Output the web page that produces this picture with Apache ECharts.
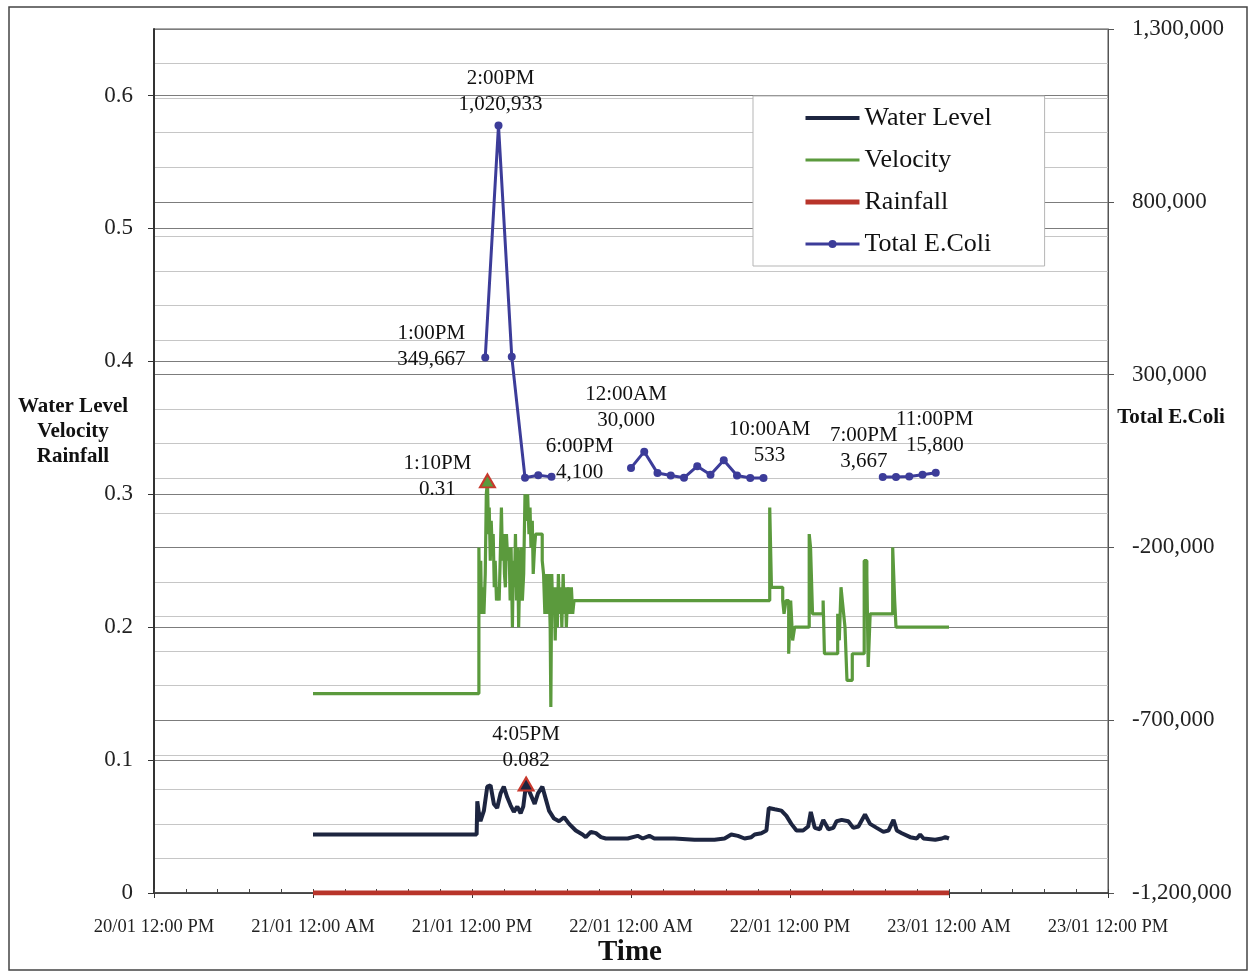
<!DOCTYPE html>
<html>
<head>
<meta charset="utf-8">
<script src="https://cdn.jsdelivr.net/npm/echarts@6/dist/echarts.min.js"></script>
<style>
  html, body { margin: 0; padding: 0; background: #fff; }
  #chart { width: 1249px; height: 972px; }
</style>
</head>
<body>
<div id="chart"></div>
<script>
// All times are hours counted from 21/01 12:00 AM.
const xTickLabels = ['20/01 12:00 PM', '21/01 12:00 AM', '21/01 12:00 PM', '22/01 12:00 AM',
                     '22/01 12:00 PM', '23/01 12:00 AM', '23/01 12:00 PM'];
const ecoliTickValues = [-1200000, -700000, -200000, 300000, 800000, 1300000];

// Velocity (m/s): each value holds until the next time stamp
const velocityHours = [0, 12.52, 12.58, 12.66, 12.72, 12.8, 12.9, 13.0, 13.08, 13.1667,
  13.25, 13.3, 13.38, 13.45, 13.52, 13.6, 13.68, 13.75, 13.85, 13.95,
  14.05, 14.15, 14.22, 14.3, 14.38, 14.45, 14.52, 14.6, 14.7, 14.8,
  14.88, 14.95, 15.05, 15.12, 15.2, 15.28, 15.36, 15.44, 15.52, 15.6,
  15.7, 15.8, 15.9, 16.0, 16.1, 16.2, 16.3, 16.38, 16.45, 16.55,
  16.62, 16.72, 16.8, 17.3, 17.4, 17.5, 17.62, 17.7, 17.8, 17.9,
  17.95, 18.02, 18.1, 18.2, 18.28, 18.36, 18.44, 18.52, 18.6, 18.7,
  18.78, 18.88, 18.96, 19.05, 19.12, 19.2, 19.3, 19.4, 19.5, 19.6,
  19.7,
  34.47, 34.6, 35.45, 35.55, 35.7, 35.9, 36.05, 36.2, 36.35, 37.45, 37.55, 37.7, 38.5, 38.6, 39.6,
  39.72, 39.85, 39.95, 40.05, 40.15, 40.3, 40.7, 41.6, 41.8, 41.9, 42.05, 43.75, 43.9, 44.0, 48];
const velocityValues = [0.15, 0.26, 0.21, 0.25, 0.21, 0.23, 0.21, 0.24, 0.30, 0.31,
  0.27, 0.29, 0.25, 0.28, 0.26, 0.27, 0.23, 0.25, 0.22, 0.23,
  0.22, 0.26, 0.29, 0.25, 0.27, 0.24, 0.23, 0.27, 0.25, 0.26,
  0.22, 0.26, 0.20, 0.25, 0.23, 0.27, 0.22, 0.26, 0.20, 0.24,
  0.26, 0.22, 0.24, 0.30, 0.28, 0.30, 0.27, 0.29, 0.26, 0.28,
  0.24, 0.26, 0.27, 0.25, 0.24, 0.21, 0.24, 0.21, 0.24, 0.20,
  0.14, 0.24, 0.21, 0.23, 0.19, 0.23, 0.20, 0.24, 0.21, 0.23,
  0.20, 0.24, 0.21, 0.23, 0.20, 0.22, 0.23, 0.21, 0.23, 0.21,
  0.22,
  0.29, 0.23, 0.22, 0.21, 0.22, 0.18, 0.22, 0.19, 0.20, 0.27, 0.26, 0.21, 0.22, 0.18, 0.21,
  0.19, 0.23, 0.22, 0.21, 0.20, 0.16, 0.18, 0.25, 0.24, 0.17, 0.21, 0.26, 0.22, 0.20, 0.20];

// Water level (m)
const waterHours = [0, 12.35, 12.4, 12.52, 12.64, 12.9, 13.15, 13.4, 13.65, 13.9, 14.16, 14.4, 14.66, 14.91,
  15.16, 15.42, 15.67, 15.87, 16.0833, 16.43, 16.73, 16.98, 17.31, 17.56, 17.81, 18.19, 18.57, 18.95, 19.33,
  19.83, 20.34, 20.59, 20.97, 21.35, 21.73, 22.1, 23.0, 23.75, 24.5, 24.88, 25.38, 25.76, 27.28, 28.79, 30.3,
  31.06, 31.57, 32.07, 32.57, 33.08, 33.33, 33.84, 34.22, 34.4, 34.85, 35.35, 35.73, 36.1, 36.49, 36.99,
  37.37, 37.57, 37.87, 38.25, 38.51, 38.9, 39.27, 39.52, 39.9, 40.4, 40.78, 41.16, 41.66, 42.04, 42.54,
  43.05, 43.43, 43.81, 44.06, 44.44, 45.07, 45.57, 45.82, 46.08, 46.96, 47.46, 47.72, 48];
const waterValues = [0.044, 0.044, 0.069, 0.060, 0.054, 0.062, 0.080, 0.081, 0.067, 0.064, 0.075, 0.080,
  0.072, 0.066, 0.061, 0.065, 0.060, 0.065, 0.082, 0.074, 0.067, 0.075, 0.080, 0.071, 0.062, 0.056, 0.054,
  0.057, 0.052, 0.047, 0.044, 0.042, 0.046, 0.045, 0.042, 0.041, 0.041, 0.041, 0.043, 0.041, 0.043, 0.041,
  0.041, 0.040, 0.040, 0.041, 0.044, 0.043, 0.041, 0.042, 0.044, 0.045, 0.047, 0.064, 0.063, 0.062, 0.058,
  0.052, 0.047, 0.047, 0.050, 0.061, 0.049, 0.048, 0.055, 0.048, 0.049, 0.054, 0.055, 0.054, 0.049, 0.050,
  0.059, 0.052, 0.049, 0.046, 0.047, 0.055, 0.047, 0.045, 0.042, 0.041, 0.044, 0.041, 0.040, 0.041, 0.042,
  0.041];

// Rainfall (no rain over the record)
const rainHours = [0, 48];
const rainValues = [0, 0];

// Total E.Coli samples, hourly; null marks a gap between sampling runs
const ecoliHours = [13, 14, 15, 16, 17, 18, 19, 24, 25, 26, 27, 28, 29, 30, 31, 32, 33, 34, 35, 43, 44, 45, 46, 47];
const ecoliValues = [349667, 1020933, 352000, 1500, 9000, 4100, null, 30000, 77000, 15000, 8000, 1500,
  35000, 10000, 52000, 8000, 1000, 533, null, 3667, 4000, 5000, 10000, 15800];

// Label placement (pixel offsets from the point) for the annotated samples
const ecoliLabelOffsets = { 13: [-54, -11], 14: [2, -34], 18: [28, -17], 24: [-5, -60],
                            34: [6, -36], 43: [-19, -29], 47: [-1, -40] };

const FONT = '"Liberation Serif", "Times New Roman", serif';
const C_WATER = '#1d2540', C_VEL = '#5b9a3d', C_RAIN = '#b8342a', C_ECOLI = '#3c3c99';

function clock(h) {
  const total = Math.round(h * 60);
  const mins = ((total % 1440) + 1440) % 1440;
  let hh = Math.floor(mins / 60);
  const mm = mins % 60;
  const ap = hh >= 12 ? 'PM' : 'AM';
  hh = hh % 12 || 12;
  return hh + ':' + String(mm).padStart(2, '0') + ap;
}

function pairs(xs, ys) { return xs.map((x, i) => [x, ys[i]]); }
function peakOf(xs, ys) {
  let k = 0;
  ys.forEach((v, i) => { if (v > ys[k]) k = i; });
  return [xs[k], ys[k]];
}

const velPeak = peakOf(velocityHours, velocityValues);
const waterPeak = peakOf(waterHours, waterValues);

const labelText = { fontFamily: FONT, fontSize: 21, color: '#111', lineHeight: 26 };

const ecoliData = ecoliHours.map((h, i) => {
  const v = ecoliValues[i];
  const item = { value: [h, v == null ? '-' : v] };
  const off = ecoliLabelOffsets[h];
  if (off && v != null) {
    item.label = Object.assign({
      show: true, position: 'inside', offset: off, align: 'center', verticalAlign: 'middle',
      formatter: p => clock(p.value[0]) + '\n' + Number(p.value[1]).toLocaleString('en-US')
    }, labelText);
  }
  return item;
});

function peakMark(coord, fill, offset) {
  return {
    symbol: 'triangle',
    symbolSize: [15, 13],
    itemStyle: { color: fill, borderColor: '#c8382c', borderWidth: 2 },
    label: Object.assign({
      show: true, position: 'inside', offset: offset, align: 'center', verticalAlign: 'middle',
      formatter: p => clock(p.data.coord[0]) + '\n' + p.data.coord[1]
    }, labelText),
    data: [{ coord: coord }]
  };
}

const noLine = { show: false, onZero: false };

const chart = echarts.init(document.getElementById('chart'));
chart.setOption({
  animation: false,
  backgroundColor: '#fff',
  grid: { left: 154, right: 141, top: 29, bottom: 79, show: true, borderColor: '#555', borderWidth: 1 },
  legend: {
    orient: 'vertical', left: 753, top: 96,
    padding: [9, 53, 9, 50], itemGap: 16, itemWidth: 54, itemHeight: 10,
    backgroundColor: '#fff', borderColor: '#b5b5b5', borderWidth: 1,
    textStyle: { fontFamily: FONT, fontSize: 26, color: '#111' },
    data: [
      { name: 'Water Level', itemStyle: { opacity: 0 }, lineStyle: { width: 4 } },
      { name: 'Velocity', itemStyle: { opacity: 0 }, lineStyle: { width: 3 } },
      { name: 'Rainfall', itemStyle: { opacity: 0 }, lineStyle: { width: 5 } },
      { name: 'Total E.Coli', lineStyle: { width: 3 } }
    ]
  },
  xAxis: [{
    type: 'value', min: -12, max: 60, interval: 12,
    axisLine: { onZero: false, lineStyle: { color: '#333', width: 1.5 } },
    axisTick: { show: true, length: 5, lineStyle: { color: '#333' } },
    axisLabel: { fontFamily: FONT, fontSize: 18.5, color: '#222', margin: 25,
                 formatter: v => xTickLabels[Math.round((v + 12) / 12)] || '' },
    splitLine: { show: false }
  }, {
    type: 'value', min: -12, max: 60, interval: 2.4, position: 'bottom',
    axisLine: noLine,
    axisTick: { show: true, inside: true, length: 4, lineStyle: { color: '#444' } },
    axisLabel: { show: false },
    splitLine: { show: false }
  }],
  yAxis: [{
    type: 'value', min: 0, max: 0.65, interval: 0.1, position: 'left',
    axisLine: { show: true, onZero: false, lineStyle: { color: '#333', width: 2 } },
    axisTick: { show: true, length: 6, lineStyle: { color: '#333' } },
    axisLabel: { fontFamily: FONT, fontSize: 23, color: '#222', margin: 21, showMaxLabel: false,
                 formatter: v => (v > 0.62 ? '' : String(Math.round(v * 10) / 10)) },
    splitLine: { show: true, lineStyle: { color: '#7c7c7c', width: 1 } }
  }, {
    type: 'value', min: -1200000, max: 1300000, interval: 100000, position: 'right',
    axisLine: { show: true, onZero: false, lineStyle: { color: '#555', width: 1 } },
    axisTick: { show: false },
    axisLabel: { fontFamily: FONT, fontSize: 23, color: '#222', margin: 24,
                 formatter: v => (ecoliTickValues.indexOf(v) >= 0 ? v.toLocaleString('en-US') : '') },
    splitLine: { show: true, lineStyle: { width: 1,
                 color: ['#7c7c7c', '#c6c6c6', '#c6c6c6', '#c6c6c6', '#c6c6c6'] } }
  }, {
    // tick marks for the labelled E.Coli values
    type: 'value', min: -1200000, max: 1300000, position: 'right',
    axisLine: noLine,
    axisTick: { show: true, length: 6, lineStyle: { color: '#555' }, customValues: ecoliTickValues },
    axisLabel: { show: false },
    splitLine: { show: false }
  }],
  graphic: [
    { type: 'rect', shape: { x: 9, y: 7, width: 1238, height: 963 },
      style: { fill: 'none', stroke: '#444', lineWidth: 1.5 }, silent: true },
    { type: 'text', x: 73, y: 432,
      style: { text: 'Water Level\nVelocity\nRainfall', font: 'bold 21px ' + FONT, fill: '#111',
               align: 'center', verticalAlign: 'middle', lineHeight: 25 } },
    { type: 'text', x: 1171, y: 418,
      style: { text: 'Total E.Coli', font: 'bold 21px ' + FONT, fill: '#111',
               align: 'center', verticalAlign: 'middle' } },
    { type: 'text', x: 630, y: 953,
      style: { text: 'Time', font: 'bold 29px ' + FONT, fill: '#111',
               align: 'center', verticalAlign: 'middle' } }
  ],
  series: [{
    name: 'Water Level', type: 'line', xAxisIndex: 0, yAxisIndex: 0,
    data: pairs(waterHours, waterValues), symbol: 'none', z: 3,
    lineStyle: { color: C_WATER, width: 4 }, itemStyle: { color: C_WATER },
    markPoint: peakMark(waterPeak, C_WATER, [0, -37])
  }, {
    name: 'Velocity', type: 'line', xAxisIndex: 0, yAxisIndex: 0, step: 'end',
    data: pairs(velocityHours, velocityValues), symbol: 'none', z: 3,
    lineStyle: { color: C_VEL, width: 3.2 }, itemStyle: { color: C_VEL },
    markPoint: peakMark(velPeak, C_VEL, [-50, -4])
  }, {
    name: 'Rainfall', type: 'line', xAxisIndex: 0, yAxisIndex: 0,
    data: pairs(rainHours, rainValues), symbol: 'none', z: 4,
    lineStyle: { color: C_RAIN, width: 5 }, itemStyle: { color: C_RAIN }
  }, {
    name: 'Total E.Coli', type: 'line', xAxisIndex: 0, yAxisIndex: 1,
    data: ecoliData, symbol: 'circle', symbolSize: 8, showSymbol: true, connectNulls: false, z: 5,
    lineStyle: { color: C_ECOLI, width: 3 }, itemStyle: { color: C_ECOLI }
  }]
});
</script>
</body>
</html>
